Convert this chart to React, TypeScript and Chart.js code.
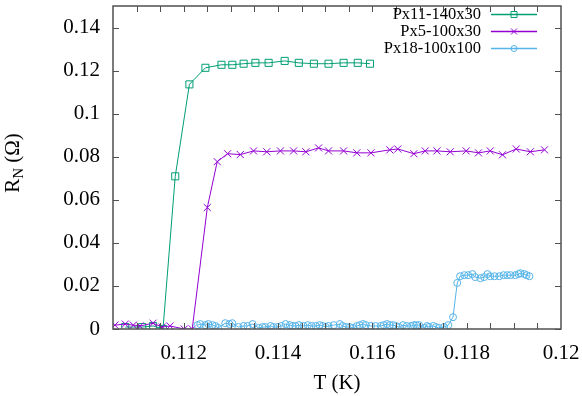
import React, { useEffect, useRef } from 'react';
import { Chart, registerables } from 'chart.js';

Chart.register(...registerables);

const SERIES_LABELS = ['Px11-140x30', 'Px5-100x30', 'Px18-100x100'];
const SERIES_COLORS = ['#009e73', '#9400d3', '#56b4e9'];
const SERIES_STYLES = ['rect', 'crossRot', 'circle'];

const PX11_T = [0.11076, 0.11112, 0.11135, 0.11156, 0.11182, 0.11212, 0.11246, 0.1128, 0.11303, 0.11327, 0.11352, 0.1138, 0.11414, 0.11444, 0.11476, 0.11507, 0.11539, 0.11569, 0.11595];
const PX11_R = [0.0009, 0.0009, 0.0014, 0.0, 0.0709, 0.1136, 0.1213, 0.1227, 0.1227, 0.1232, 0.1236, 0.1236, 0.1245, 0.1236, 0.1232, 0.1232, 0.1236, 0.1236, 0.1232];

const PX5_T = [0.11054, 0.11076, 0.11093, 0.11107, 0.11135, 0.11154, 0.11171, 0.11201, 0.11218, 0.1125, 0.11271, 0.11293, 0.1132, 0.11348, 0.11376, 0.11405, 0.11433, 0.11459, 0.11486, 0.11507, 0.11539, 0.11567, 0.11597, 0.11637, 0.11654, 0.11688, 0.11712, 0.11737, 0.11765, 0.11799, 0.11825, 0.1185, 0.11876, 0.11905, 0.11935, 0.11965];
const PX5_R = [0.0018, 0.0023, 0.0018, 0.0014, 0.0027, 0.0009, 0.0014, 0.0, 0.0, 0.0564, 0.0777, 0.0814, 0.081, 0.0827, 0.0823, 0.0827, 0.0827, 0.0823, 0.0841, 0.0827, 0.0827, 0.0818, 0.0818, 0.0832, 0.0836, 0.0814, 0.0827, 0.0827, 0.0823, 0.0827, 0.0818, 0.0827, 0.0809, 0.0836, 0.0823, 0.0832];

const PX18_T = [0.11229, 0.11235, 0.11246, 0.11252, 0.11261, 0.11267, 0.11273, 0.11288, 0.11297, 0.11303, 0.11316, 0.11327, 0.11335, 0.11346, 0.11359, 0.11367, 0.11373, 0.11384, 0.1139, 0.11399, 0.11407, 0.11416, 0.11425, 0.11431, 0.11437, 0.11444, 0.11454, 0.11463, 0.11471, 0.1148, 0.11488, 0.11495, 0.11501, 0.11507, 0.11518, 0.11531, 0.11537, 0.11544, 0.11552, 0.11559, 0.11567, 0.11573, 0.1158, 0.11586, 0.11597, 0.11607, 0.11618, 0.11624, 0.11631, 0.11637, 0.11644, 0.1165, 0.11656, 0.11665, 0.11673, 0.11682, 0.11688, 0.11693, 0.11699, 0.1171, 0.11716, 0.1172, 0.11729, 0.11735, 0.11741, 0.11752, 0.11761, 0.11771, 0.1178, 0.11786, 0.11795, 0.11803, 0.11812, 0.11818, 0.11829, 0.11837, 0.11844, 0.1185, 0.11859, 0.11869, 0.11878, 0.11886, 0.11893, 0.11903, 0.1191, 0.11914, 0.11922, 0.11927, 0.11933];
const PX18_R = [0.0018, 0.0023, 0.0018, 0.0023, 0.0018, 0.0014, 0.0005, 0.0027, 0.0023, 0.0027, 0.0009, 0.0014, 0.0014, 0.0023, 0.0005, 0.0009, 0.0009, 0.0014, 0.0009, 0.0009, 0.0014, 0.0023, 0.0018, 0.0014, 0.0014, 0.0018, 0.0014, 0.0018, 0.0014, 0.0014, 0.0018, 0.0014, 0.0009, 0.0014, 0.0018, 0.0023, 0.0014, 0.0009, 0.0009, 0.0005, 0.0014, 0.0018, 0.0023, 0.0018, 0.0014, 0.0014, 0.0014, 0.0018, 0.0023, 0.0018, 0.0018, 0.0014, 0.0009, 0.0018, 0.0014, 0.0014, 0.0018, 0.0018, 0.0018, 0.0005, 0.0014, 0.0009, 0.0014, 0.0009, 0.0005, 0.0009, 0.0018, 0.0055, 0.0214, 0.0245, 0.025, 0.025, 0.0255, 0.0241, 0.0236, 0.0241, 0.0255, 0.0245, 0.0245, 0.0245, 0.025, 0.025, 0.025, 0.025, 0.0255, 0.0259, 0.0255, 0.025, 0.0245];

const X_TICKS = [0.112, 0.114, 0.116, 0.118, 0.12];
const X_TICK_MARKS = [0.111, 0.1115, 0.112, 0.1125, 0.113, 0.1135, 0.114, 0.1145, 0.115, 0.1155, 0.116, 0.1165, 0.117, 0.1175, 0.118, 0.1185, 0.119, 0.1195];
const Y_TICKS = [0, 0.02, 0.04, 0.06, 0.08, 0.1, 0.12, 0.14];
const X_TITLE = 'T (K)';
const Y_TITLE_MAIN = 'R';
const Y_TITLE_SUB = 'N';
const Y_TITLE_REST = ' (Ω)';

const FONT = '"Liberation Serif", "Times New Roman", serif';
const FRAME = '#505050';

function drawMarker(ctx: CanvasRenderingContext2D, style: string, x: number, y: number, r: number) {
  ctx.beginPath();
  if (style === 'rect') {
    ctx.rect(x - r, y - r, 2 * r, 2 * r);
  } else if (style === 'crossRot') {
    ctx.moveTo(x - r, y - r);
    ctx.lineTo(x + r, y + r);
    ctx.moveTo(x - r, y + r);
    ctx.lineTo(x + r, y - r);
  } else {
    ctx.arc(x, y, r, 0, Math.PI * 2);
  }
  ctx.stroke();
}

const framePlugin = {
  id: 'gnuplotFrame',
  afterDraw(chart: any) {
    const ctx: CanvasRenderingContext2D = chart.ctx;
    const { left, right, top, bottom } = chart.chartArea;
    const xs = chart.scales.x;
    const ys = chart.scales.y;
    ctx.save();
    ctx.strokeStyle = FRAME;
    ctx.lineWidth = 1;
    ctx.beginPath();
    for (const v of Y_TICKS) {
      const p = Math.round(ys.getPixelForValue(v)) + 0.5;
      ctx.moveTo(left, p);
      ctx.lineTo(left + 6, p);
      ctx.moveTo(right, p);
      ctx.lineTo(right - 6, p);
    }
    for (const v of X_TICK_MARKS) {
      const p = Math.round(xs.getPixelForValue(v)) + 0.5;
      ctx.moveTo(p, bottom);
      ctx.lineTo(p, bottom - 6);
      ctx.moveTo(p, top);
      ctx.lineTo(p, top + 6);
    }
    ctx.stroke();
    ctx.lineWidth = 1.5;
    ctx.strokeRect(left, top, right - left, bottom - top);

    // y-axis title with subscript
    ctx.fillStyle = '#000';
    ctx.translate(19, 163);
    ctx.rotate(-Math.PI / 2);
    ctx.textBaseline = 'alphabetic';
    ctx.textAlign = 'left';
    ctx.font = `21px ${FONT}`;
    const wR = ctx.measureText(Y_TITLE_MAIN).width;
    const wRest = ctx.measureText(Y_TITLE_REST).width;
    ctx.font = `15px ${FONT}`;
    const wN = ctx.measureText(Y_TITLE_SUB).width;
    const total = wR + wN + wRest;
    let x0 = -total / 2;
    ctx.font = `21px ${FONT}`;
    ctx.fillText(Y_TITLE_MAIN, x0, 0);
    ctx.font = `15px ${FONT}`;
    ctx.fillText(Y_TITLE_SUB, x0 + wR, 4);
    ctx.font = `21px ${FONT}`;
    ctx.fillText(Y_TITLE_REST, x0 + wR + wN, 0);
    ctx.restore();

    // legend (gnuplot style)
    ctx.save();
    ctx.font = `16.5px ${FONT}`;
    ctx.textAlign = 'right';
    ctx.textBaseline = 'middle';
    ctx.fillStyle = '#000';
    chart.data.datasets.forEach((ds: any, i: number) => {
      const y = 14 + i * 17;
      ctx.fillText(ds.label, 481, y + 1);
      ctx.strokeStyle = ds.borderColor;
      ctx.lineWidth = 1.5;
      ctx.beginPath();
      ctx.moveTo(491, y + 0.5);
      ctx.lineTo(537, y + 0.5);
      ctx.stroke();
      ctx.lineWidth = 1;
      drawMarker(ctx, SERIES_STYLES[i], 514, y + 0.5, i === 2 ? 3 : 3);
    });
    ctx.restore();
  },
};

function makeData(ts: number[], rs: number[]) {
  return ts.map((t, i) => ({ x: t, y: rs[i] }));
}

export default function App() {
  const ref = useRef<HTMLCanvasElement | null>(null);
  useEffect(() => {
    if (!ref.current) return;
    const series = [
      makeData(PX11_T, PX11_R),
      makeData(PX5_T, PX5_R),
      makeData(PX18_T, PX18_R),
    ];
    const radii = [5, 5, 3.5];
    const chart = new Chart(ref.current, {
      type: 'scatter',
      data: {
        datasets: series.map((d, i) => ({
          label: SERIES_LABELS[i],
          data: d,
          showLine: true,
          borderColor: SERIES_COLORS[i],
          backgroundColor: 'rgba(0,0,0,0)',
          borderWidth: 1,
          pointStyle: SERIES_STYLES[i] as any,
          pointRadius: radii[i],
          pointBorderWidth: 1,
          pointBorderColor: SERIES_COLORS[i],
          pointBackgroundColor: 'rgba(0,0,0,0)',
          order: 3 - i,
        })),
      },
      options: {
        animation: false,
        responsive: false,
        devicePixelRatio: 1,
        layout: { padding: { top: 1, right: 21, left: 0, bottom: 0 } },
        plugins: { legend: { display: false }, tooltip: { enabled: false } },
        scales: {
          x: {
            type: 'linear',
            min: 0.1105,
            max: 0.12,
            grid: { display: false, drawTicks: false },
            border: { display: false },
            ticks: {
              color: '#000',
              font: { family: FONT, size: 21 },
              padding: 12,
              maxRotation: 0,
              autoSkip: false,
              callback: (v: any) => String(v),
            },
            afterBuildTicks: (s: any) => {
              s.ticks = X_TICKS.map((v) => ({ value: v }));
            },
            afterFit: (s: any) => {
              s.height = 67;
              s.paddingLeft = 0;
              s.paddingRight = 0;
            },
            title: {
              display: true,
              text: X_TITLE,
              color: '#000',
              font: { family: FONT, size: 21 },
              padding: { top: 0, bottom: 0 },
            },
          },
          y: {
            type: 'linear',
            min: 0,
            max: 0.15,
            grid: { display: false, drawTicks: false },
            border: { display: false },
            ticks: {
              color: '#000',
              font: { family: FONT, size: 21 },
              padding: 13,
              autoSkip: false,
              callback: (v: any) => String(v),
            },
            afterBuildTicks: (s: any) => {
              s.ticks = Y_TICKS.map((v) => ({ value: v }));
            },
            afterFit: (s: any) => {
              s.width = 113;
              s.paddingTop = 0;
              s.paddingBottom = 0;
            },
          },
        },
      },
      plugins: [framePlugin],
    });
    return () => chart.destroy();
  }, []);
  return (
    <div style={{ position: 'absolute', left: 0, top: 0, width: 582, height: 396, background: '#fff' }}>
      <canvas ref={ref} width={582} height={396} style={{ display: 'block' }} />
    </div>
  );
}
